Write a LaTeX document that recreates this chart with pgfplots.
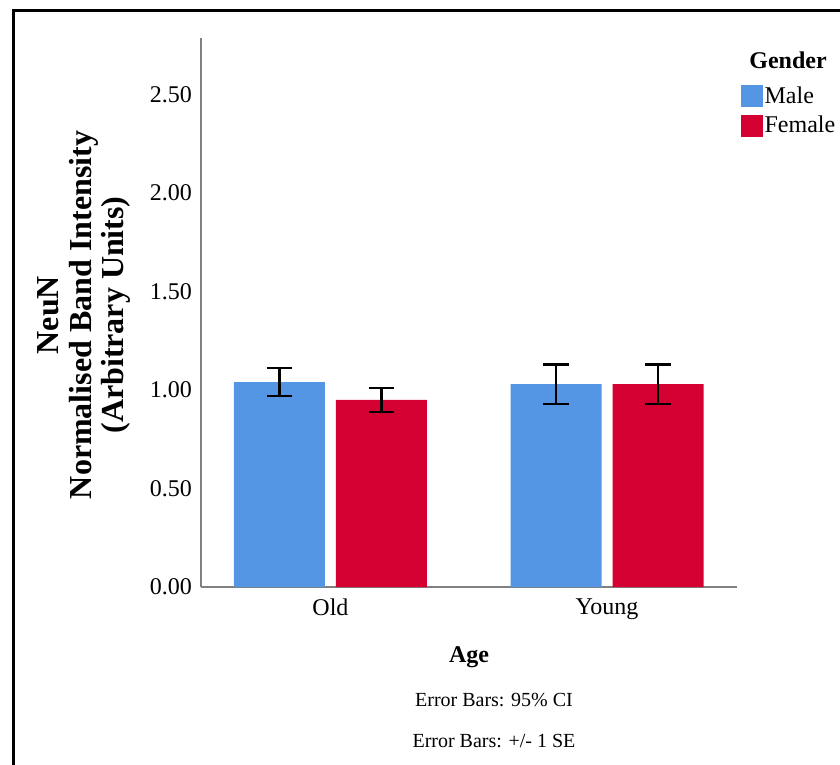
\documentclass[border=0pt]{standalone}
\usepackage{fontspec}
\setmainfont{Liberation Serif}
\usepackage{pgfplots}
\pgfplotsset{compat=1.18}
\definecolor{male}{RGB}{85,150,228}
\definecolor{female}{RGB}{213,0,50}
\definecolor{axgray}{RGB}{128,128,128}
\begin{document}
\begin{tikzpicture}
\useasboundingbox (0pt,0pt) rectangle (420pt,-382.5pt);
\draw[line width=1.5pt] (6.5pt,-382.5pt) -- (6.5pt,-5.25pt) -- (420pt,-5.25pt);
\begin{axis}[
  at={(100.5pt,-293.5pt)}, anchor=south west,
  scale only axis, width=268pt, height=274.5pt,
  xmin=-0.468, xmax=1.470, ymin=0, ymax=2.787,
  ybar=5.5pt, bar width=45.5pt,
  axis x line=bottom, axis y line=left,
  axis line style={-, draw=axgray, line width=0.75pt},
  major tick length=0pt,
  xtick={0,1}, xticklabels={Old,Young},
  ytick={0,0.5,1,1.5,2,2.5},
  yticklabels={0.00,0.50,1.00,1.50,2.00,2.50},
  tick label style={font=\fontsize{12}{14}\selectfont},
  yticklabel style={anchor=east, xshift=-1pt},
  xticklabel style={anchor=north, yshift=-2.5pt},
  legend style={at={(axis description cs:1.006,0.916)}, anchor=north west,
    draw=none, fill=none, inner sep=0pt, row sep=2.8pt,
    font=\fontsize{12}{14}\selectfont, nodes={inner sep=1pt}},
  legend cell align=left,
  clip=false,
  error bars/y dir=both, error bars/y explicit,
  error bars/error bar style={black, line width=1.1pt},
  error bars/error mark options={black, line width=1.1pt, mark size=6.4pt, rotate=90},
]
\addplot[fill=male, draw=none,
  legend image code/.code={\fill[male] (0pt,-5.5pt) rectangle (11pt,5.5pt);}]
  coordinates {(0,1.04) +- (0,0.07) (1,1.03) +- (0,0.10)};
\addlegendentry{Male}
\addplot[fill=female, draw=none,
  legend image code/.code={\fill[female] (0pt,-5.5pt) rectangle (11pt,5.5pt);}]
  coordinates {(0,0.95) +- (0,0.062) (1,1.03) +- (0,0.10)};
\addlegendentry{Female}
\end{axis}
\node[font=\bfseries\fontsize{12}{14}\selectfont] at (394pt,-30pt) {Gender};
\node[rotate=90, align=center, font=\bfseries\fontsize{16}{16.3}\selectfont] at (42pt,-157.5pt)
  {NeuN\\Normalised Band Intensity\\(Arbitrary Units)};
\node[font=\bfseries\fontsize{12}{14}\selectfont] at (234.5pt,-328.5pt) {Age};
\node[font=\fontsize{10}{12}\selectfont] at (247pt,-350pt) {Error Bars: 95\% CI};
\node[font=\fontsize{10}{12}\selectfont] at (247pt,-370.5pt) {Error Bars: +/- 1 SE};
\end{tikzpicture}
\end{document}
